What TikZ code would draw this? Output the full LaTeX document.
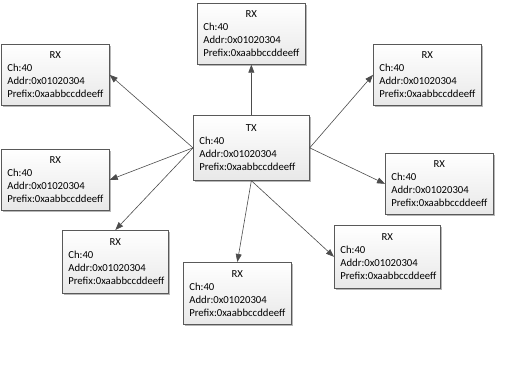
\documentclass[tikz,border=0pt]{standalone}
\usepackage{fontspec}
\setmainfont{Carlito}
\usetikzlibrary{arrows.meta,shadows}
\begin{document}
\begin{tikzpicture}[x=1pt,y=-1pt,
  box/.style={draw=black!65, line width=0.7pt, rectangle, anchor=north west,
    top color=white, bottom color=black!9,
    drop shadow={shadow xshift=2pt, shadow yshift=-2pt, fill=black!40, opacity=0.7},
    inner xsep=6pt, inner ysep=0pt, text width=96pt, minimum height=61pt,
    font=\fontsize{10.7}{13}\selectfont},
  txbox/.style={box, text width=104pt, minimum height=65pt},
  conn/.style={draw=black!70, line width=0.6pt, -{Triangle[length=8pt,width=6pt]}}]
\useasboundingbox (0,0) rectangle (523,371);
\newcommand{\boxtext}[1]{\centering #1\par\raggedright Ch:40\par Addr:0x01020304\par Prefix:0xaabbccddeeff}
\node[box] (rxT)  at (197,3)   {\boxtext{RX}};
\node[box] (rxUL) at (1,44)    {\boxtext{RX}};
\node[box] (rxUR) at (373,44)  {\boxtext{RX}};
\node[box] (rxML) at (1,149)   {\boxtext{RX}};
\node[box] (rxMR) at (385,153) {\boxtext{RX}};
\node[box, text width=94pt, minimum height=63pt] (rxBL) at (62,230)  {\boxtext{RX}};
\node[box, minimum height=62pt] (rxBM) at (183,262) {\boxtext{RX}};
\node[box, text width=94pt, minimum height=63pt] (rxBR) at (334,225) {\boxtext{RX}};
\node[txbox] (tx) at (193,115) {\boxtext{TX}};
\draw[conn] (tx.north) -- (rxT.south);
\draw[conn] (tx.west) -- (rxUL.east);
\draw[conn] (tx.east) -- (rxUR.west);
\draw[conn] (tx.west) -- (rxML.east);
\draw[conn] (tx.east) -- (rxMR.west);
\draw[conn] (tx.west) -- (rxBL.north);
\draw[conn] (tx.south) -- (rxBM.north);
\draw[conn] (tx.south) -- (rxBR.west);
\end{tikzpicture}
\end{document}
